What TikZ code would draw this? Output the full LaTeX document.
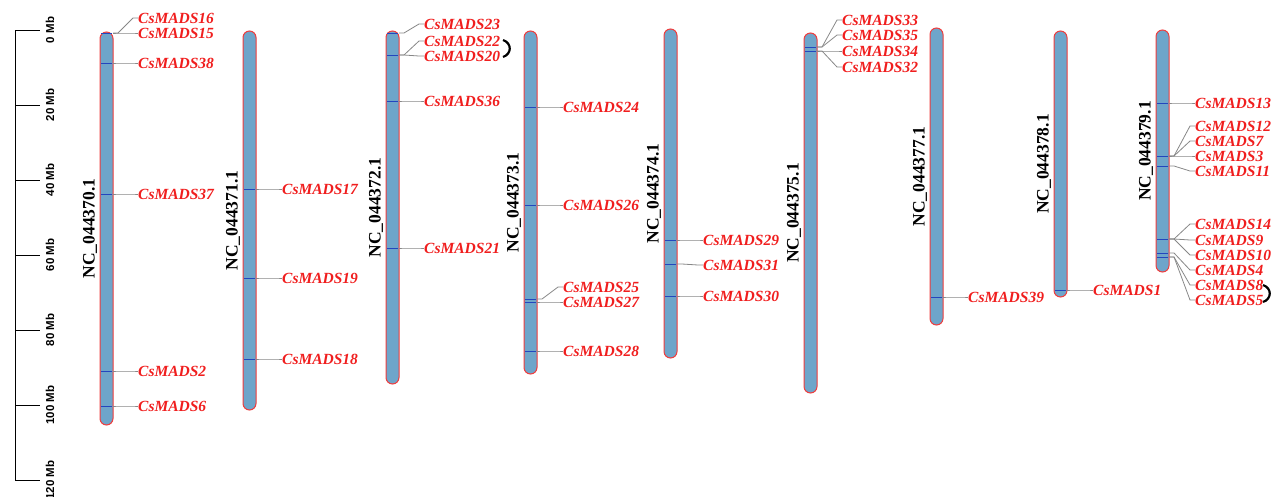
\documentclass[tikz,border=0pt]{standalone}
\usepackage{fontspec}
\setmainfont{Liberation Serif}[BoldFont={Liberation Serif Bold},ItalicFont={Liberation Serif Italic},BoldItalicFont={Liberation Serif Bold Italic}]
\newfontfamily\mbfont{Liberation Sans}[BoldFont={Liberation Sans Bold}]
\definecolor{chrfill}{RGB}{110,165,202}
\definecolor{chredge}{RGB}{240,60,60}
\definecolor{bandblue}{RGB}{35,70,190}
\definecolor{conngrey}{RGB}{135,135,135}
\definecolor{genered}{RGB}{240,30,30}
\tikzset{
  chromo/.style={fill=chrfill,draw=chredge,line width=1pt,rounded corners=6.5pt},
  band/.style={draw=bandblue,line width=1pt},
  conn/.style={draw=conngrey,line width=0.8pt},
  gl/.style={anchor=west,inner sep=0pt,text=genered,font=\fontsize{15.5}{18}\selectfont\bfseries\itshape},
  chrlab/.style={rotate=90,inner sep=0pt,font=\fontsize{17.5}{20}\selectfont\bfseries},
  scalelab/.style={rotate=90,inner sep=0pt,font=\mbfont\bfseries\fontsize{11.5}{13}\selectfont},
  brk/.style={draw=black,line width=2.2pt},
}
\newcommand\chrom[5]{%
  \draw[chromo] (#2,#3) rectangle (#2+13,#4);
  \node[chrlab] (#1) at (#2-10,{(#3+#4)/2}) {#5};
}
\newcommand\gene[5]{%
  \draw[band] (#1-12,#2) -- (#1-1,#2);
  \coordinate (m#5) at (#1,#2);
  \node[gl] (g#5) at (#3,#4) {CsMADS#5};
  \draw[conn] (m#5) -- ++(5,0) -- ([xshift=-5pt]g#5.west) -- (g#5.west);
}
\begin{document}
\begin{tikzpicture}[x=1pt,y=-1pt]
\useasboundingbox (0,0) rectangle (1271,496);
% scale bar
\coordinate (sTop) at (15,30);
\coordinate (sBot) at (15,480);
\draw[line width=1pt] (sTop) -- (sBot);
\foreach \i/\t in {0/0 Mb,1/20 Mb,2/40 Mb,3/60 Mb,4/80 Mb,5/100 Mb,6/120 Mb}{
  \coordinate (tk\i) at (15,30+75*\i);
  \draw[line width=1pt] (tk\i) -- ++(25,0);
  \node[scalelab] (tl\i) at (50,30+75*\i) {\t};
}
% chromosomes
\chrom{c1}{100}{32}{425}{NC\_044370.1}
\chrom{c2}{243}{31}{410}{NC\_044371.1}
\chrom{c3}{386}{31}{384}{NC\_044372.1}
\chrom{c4}{524}{31}{374}{NC\_044373.1}
\chrom{c5}{664}{29}{358}{NC\_044374.1}
\chrom{c6}{804}{33}{393}{NC\_044375.1}
\chrom{c7}{930}{28}{325}{NC\_044377.1}
\chrom{c8}{1054}{31}{297}{NC\_044378.1}
\chrom{c9}{1156}{30}{272}{NC\_044379.1}
% chr1
\gene{113}{33}{138}{18}{16}
\gene{113}{33}{138}{33}{15}
\gene{113}{63}{138}{63}{38}
\gene{113}{194}{138}{194}{37}
\gene{113}{371}{138}{371}{2}
\gene{113}{406}{138}{406}{6}
% chr2
\gene{256}{189}{282}{189}{17}
\gene{256}{278}{282}{278}{19}
\gene{256}{359}{282}{359}{18}
% chr3
\gene{399}{33}{424}{24}{23}
\gene{399}{55}{424}{41}{22}
\gene{399}{55}{424}{56}{20}
\gene{399}{101}{424}{101}{36}
\gene{399}{248}{424}{248}{21}
% chr4
\gene{537}{107}{563}{107}{24}
\gene{537}{205}{563}{205}{26}
\gene{537}{299}{563}{287}{25}
\gene{537}{302}{563}{302}{27}
\gene{537}{351}{563}{351}{28}
% chr5
\gene{677}{240}{703}{240}{29}
\gene{677}{264}{703}{265}{31}
\gene{677}{296}{703}{296}{30}
% chr6
\gene{817}{47}{842}{20}{33}
\gene{817}{47}{842}{35}{35}
\gene{817}{51}{842}{51}{34}
\gene{817}{51}{842}{67}{32}
% chr7
\gene{943}{297}{968}{297}{39}
% chr8
\gene{1067}{290}{1093}{290}{1}
% chr9
\gene{1169}{103}{1195}{103}{13}
\gene{1169}{156}{1195}{126}{12}
\gene{1169}{156}{1195}{141}{7}
\gene{1169}{156}{1195}{156}{3}
\gene{1169}{166}{1195}{171}{11}
\gene{1169}{239}{1195}{224}{14}
\gene{1169}{239}{1195}{240}{9}
\gene{1169}{239}{1195}{255}{10}
\gene{1169}{253}{1195}{270}{4}
\gene{1169}{257}{1195}{285}{8}
\gene{1169}{257}{1195}{300}{5}
% brackets
\coordinate (b1a) at (503,40);
\coordinate (b1b) at (503,57);
\draw[brk] (b1a) .. controls (512,43) and (512,54) .. (b1b);
\coordinate (b2a) at (1263,285);
\coordinate (b2b) at (1263,302);
\draw[brk] (b2a) .. controls (1272,288) and (1272,299) .. (b2b);
\end{tikzpicture}
\end{document}
